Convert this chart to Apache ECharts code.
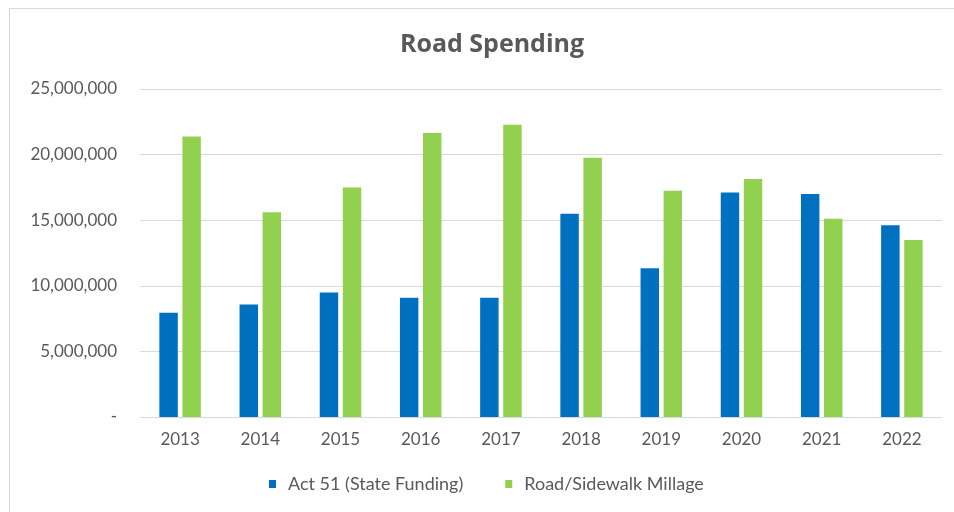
<!DOCTYPE html>
<html>
<head>
<meta charset="utf-8">
<script src="https://cdn.jsdelivr.net/npm/echarts@6/dist/echarts.min.js"></script>
<style>
  html, body { margin: 0; padding: 0; background: #fff; }
  #frame { position: absolute; left: 9px; top: 8px; width: 960px; height: 520px; border: 1px solid #d9d9d9; box-sizing: border-box; }
  #chart { position: absolute; left: 0; top: 0; width: 954px; height: 512px; }
</style>
</head>
<body>
<div id="frame"></div>
<div id="chart"></div>
<script>
const years = ['2013', '2014', '2015', '2016', '2017', '2018', '2019', '2020', '2021', '2022'];
const act51 = [7950000, 8570000, 9480000, 9080000, 9080000, 15500000, 11340000, 17120000, 16990000, 14610000];
const millage = [21380000, 15600000, 17500000, 21640000, 22270000, 19760000, 17250000, 18140000, 15120000, 13490000];
const seriesNames = ['Act 51 (State Funding)', 'Road/Sidewalk Millage'];

const font = 'Lato, "Open Sans", sans-serif';
const chart = echarts.init(document.getElementById('chart'));

chart.setOption({
  animation: false,
  title: {
    text: 'Road Spending',
    left: 487,
    top: 27,
    textAlign: 'center',
    textStyle: { fontFamily: '"Open Sans", sans-serif', fontSize: 25, fontWeight: 'bold', color: '#595959' }
  },
  legend: {
    data: seriesNames,
    left: 264,
    top: 470,
    itemWidth: 7,
    itemHeight: 8,
    itemGap: 42,
    icon: 'rect',
    textStyle: { fontFamily: font, fontSize: 18, color: '#595959', padding: [0, 0, 0, 7] }
  },
  grid: { left: 140, right: 12, top: 89, bottom: 95 },
  xAxis: {
    type: 'category',
    data: years,
    axisLine: { lineStyle: { color: '#d9d9d9' } },
    axisTick: { show: false },
    axisLabel: { fontFamily: font, fontSize: 17, color: '#595959', margin: 14 }
  },
  yAxis: {
    type: 'value',
    min: 0,
    max: 25000000,
    interval: 5000000,
    axisLine: { show: false },
    axisTick: { show: false },
    splitLine: { lineStyle: { color: '#d9d9d9' } },
    axisLabel: {
      fontFamily: font,
      fontSize: 17,
      color: '#595959',
      margin: 23,
      formatter: v => v === 0 ? '-' : v.toLocaleString('en-US')
    }
  },
  series: [
    {
      name: seriesNames[0],
      type: 'bar',
      data: act51,
      barWidth: '23%',
      barGap: '25%',
      itemStyle: { color: '#0070C0' }
    },
    {
      name: seriesNames[1],
      type: 'bar',
      data: millage,
      barWidth: '23%',
      itemStyle: { color: '#92D050' }
    }
  ]
});
</script>
</body>
</html>
